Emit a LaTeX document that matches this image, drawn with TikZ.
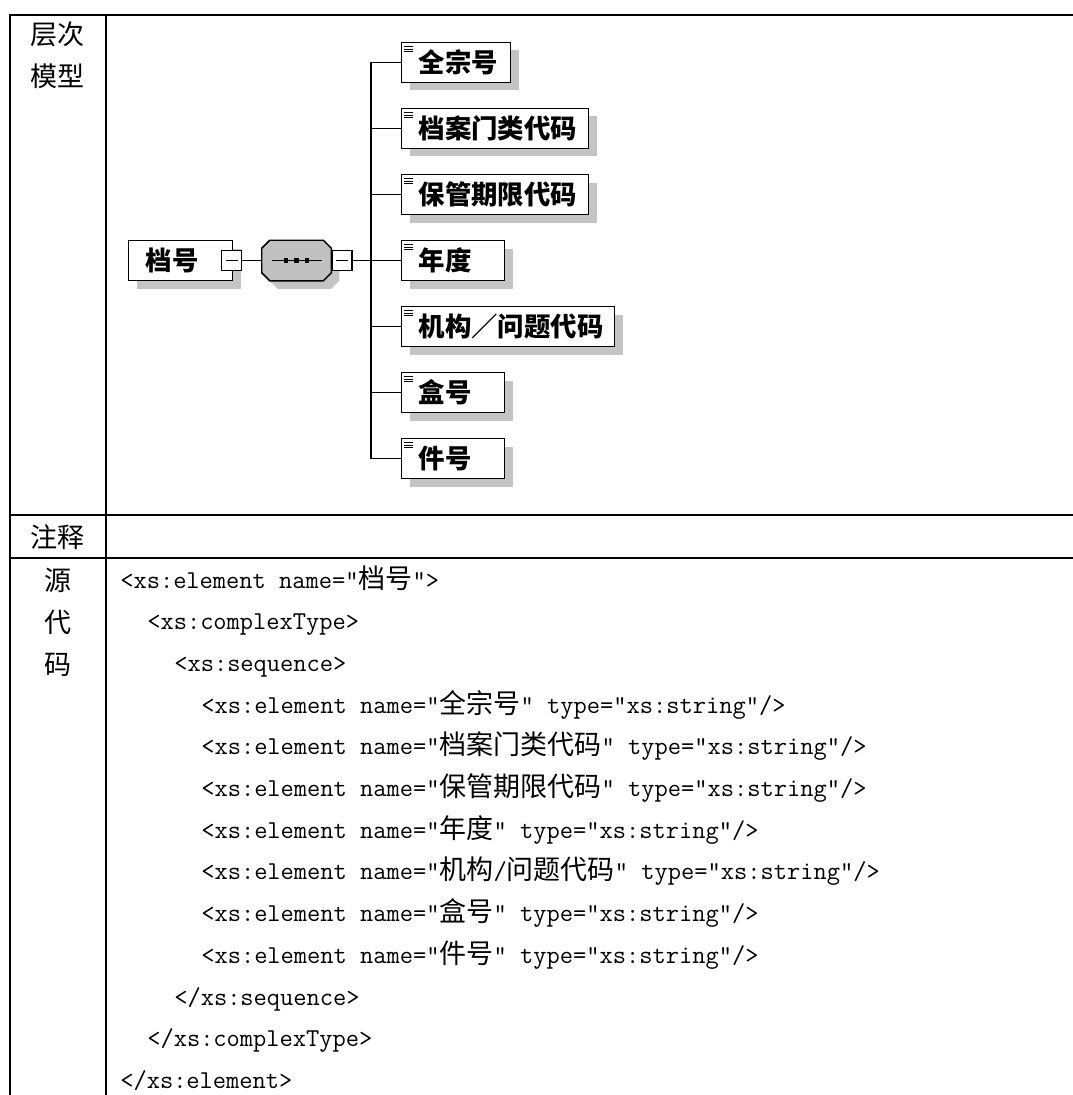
\documentclass[tikz,border=0pt]{standalone}
\usepackage{fontspec}
\newfontfamily\cjk{Noto Sans CJK SC}
\usetikzlibrary{calc,shadows}
\definecolor{shgray}{RGB}{196,196,196}
\definecolor{seqgray}{RGB}{192,192,192}
\newcommand\cjt[1]{{\cjk\fontsize{20.25pt}{22pt}\selectfont #1}}
\begin{document}
\begin{tikzpicture}[x=0.75pt,y=-0.75pt,
  tline/.style={line width=1.9pt},
  lab/.style={anchor=base,inner sep=0pt,font=\cjk\fontsize{20.25pt}{22pt}\selectfont},
  code/.style={anchor=base west,inner sep=0pt,font=\ttfamily\fontsize{19.29pt}{22pt}\selectfont},
  elem/.style={draw=black,line width=1.1pt,fill=white,anchor=west,minimum height=30pt,
    inner xsep=0pt,inner ysep=0pt,text width=#1,align=left,
    font=\cjk\fontsize{19.8pt}{22pt}\bfseries,
    drop shadow={shadow xshift=6pt,shadow yshift=-6pt,fill=shgray,opacity=1}},
  minus/.style={draw=black,line width=1.1pt,fill=white,minimum width=15pt,minimum height=15pt,inner sep=0pt},
  conn/.style={line width=1.1pt},
  icon/.style={line width=0.6pt}
  ]
\useasboundingbox (0,0) rectangle (1072,1095);
% table
\draw[tline] (10,1100) -- (10,15) -- (1080,15);
\draw[tline] (106,15) -- (106,1100);
\draw[tline] (10,515) -- (1080,515);
\draw[tline] (10,558) -- (1080,558);
% left column labels
\node[lab] (t1) at (57.5,45) {层次};
\node[lab] (t2) at (57.5,87) {模型};
\node[lab] (t3) at (57.5,547) {注释};
\node[lab] (t4) at (57.5,590) {源};
\node[lab] (t5) at (57.5,632) {代};
\node[lab] (t6) at (57.5,674) {码};
% diagram
\node[elem=78pt] (root) at (128,260.5) {\hspace*{12.75pt}档号};
\node[minus] (rm) at (231.5,260.5) {};
\draw[line width=1pt] ($(rm.center)+(-6,0)$) -- ($(rm.center)+(6,0)$);
\node[minimum width=51.75pt,minimum height=30pt,inner sep=0pt] (seq) at (296.5,260.5) {};
\fill[shgray] ($(seq.north west)+(16,8)$) -- ($(seq.north east)+(0,8)$) -- ($(seq.north east)+(8,16)$)
  -- ($(seq.south east)+(8,0)$) -- ($(seq.south east)+(0,8)$) -- ($(seq.south west)+(16,8)$)
  -- ($(seq.south west)+(8,0)$) -- ($(seq.north west)+(8,16)$) -- cycle;
\draw[line width=1.1pt,fill=seqgray] ($(seq.north west)+(8,0)$) -- ($(seq.north east)+(-8,0)$) -- ($(seq.north east)+(0,8)$)
  -- ($(seq.south east)+(0,-8)$) -- ($(seq.south east)+(-8,0)$) -- ($(seq.south west)+(8,0)$)
  -- ($(seq.south west)+(0,-8)$) -- ($(seq.north west)+(0,8)$) -- cycle;
\draw[line width=1pt] ($(seq.center)+(-24.5,0)$) -- ($(seq.center)+(25,0)$);
\foreach \dx in {-10.5,0,10.5}
  \fill ($(seq.center)+(\dx,0)+(-2.2,-2.2)$) rectangle ++(4.4,4.4);
\node[minus] (sm) at (342,260.5) {};
\draw[line width=1pt] ($(sm.center)+(-6,0)$) -- ($(sm.center)+(6,0)$);
\coordinate (junc) at (371,260.5);
\node[elem=81.75pt] (c1) at (401,62.5) {\hspace*{12.75pt}全宗号};
\node[elem=140.25pt] (c2) at (401,128.5) {\hspace*{12.75pt}档案门类代码};
\node[elem=140.25pt] (c3) at (401,194.5) {\hspace*{12.75pt}保管期限代码};
\node[elem=77.25pt] (c4) at (401,260.5) {\hspace*{12.75pt}年度};
\node[elem=159.75pt] (c5) at (401,326.5) {\hspace*{12.75pt}机构／问题代码};
\node[elem=77.25pt] (c6) at (401,392.5) {\hspace*{12.75pt}盒号};
\node[elem=77.25pt] (c7) at (401,458.5) {\hspace*{12.75pt}件号};
\foreach \c in {c1,c2,c3,c4,c5,c6,c7}{
  \draw[icon] ($(\c.north west)+(3,5)$) -- ++(9,0);
  \draw[icon] ($(\c.north west)+(3,7.5)$) -- ++(9,0);
  \draw[icon] ($(\c.north west)+(3,10)$) -- ++(9,0);
  \draw[conn] (junc |- \c.west) -- (\c.west);
}
\draw[conn] (rm.east) -- (seq.west);
\draw[conn] (sm.east) -- (junc);
\draw[conn] (junc |- c1.west) -- (junc |- c7.west);
% source code
\node[code] (l1) at (120,588) {<xs:element name="\cjt{档号}">};
\node[code] (l2) at (147,629.7) {<xs:complexType>};
\node[code] (l3) at (174,671.4) {<xs:sequence>};
\node[code] (l4) at (201,713.1) {<xs:element name="\cjt{全宗号}" type="xs:string"/>};
\node[code] (l5) at (201,754.8) {<xs:element name="\cjt{档案门类代码}" type="xs:string"/>};
\node[code] (l6) at (201,796.5) {<xs:element name="\cjt{保管期限代码}" type="xs:string"/>};
\node[code] (l7) at (201,838.2) {<xs:element name="\cjt{年度}" type="xs:string"/>};
\node[code] (l8) at (201,879.9) {<xs:element name="\cjt{机构}/\cjt{问题代码}" type="xs:string"/>};
\node[code] (l9) at (201,921.6) {<xs:element name="\cjt{盒号}" type="xs:string"/>};
\node[code] (l10) at (201,963.3) {<xs:element name="\cjt{件号}" type="xs:string"/>};
\node[code] (l11) at (174,1005) {</xs:sequence>};
\node[code] (l12) at (147,1046.7) {</xs:complexType>};
\node[code] (l13) at (120,1088.4) {</xs:element>};
\end{tikzpicture}
\end{document}
